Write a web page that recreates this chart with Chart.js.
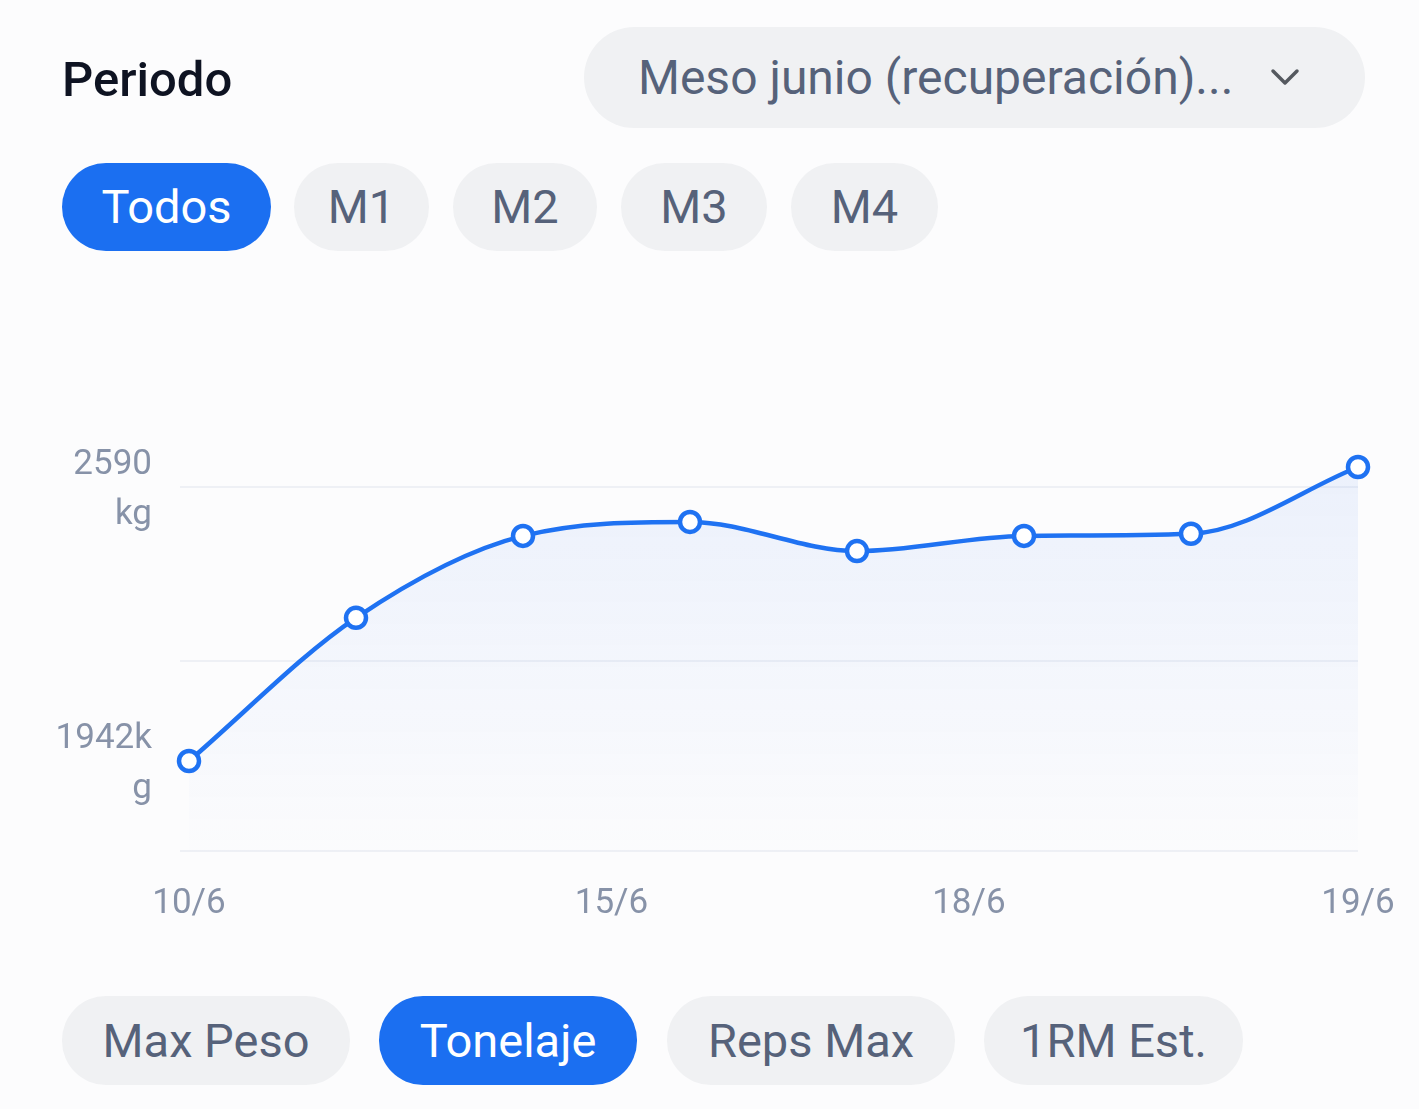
<!DOCTYPE html>
<html>
<head>
<meta charset="utf-8">
<script src="https://cdn.jsdelivr.net/npm/chart.js@4/dist/chart.umd.min.js"></script>
<style>
  html, body { margin: 0; padding: 0; }
  body {
    width: 1419px; height: 1109px; position: relative; overflow: hidden;
    background: #fcfcfd; font-family: Roboto, "Noto Sans", sans-serif;
  }
  .title {
    position: absolute; left: 62px; top: 50px; font-size: 49px; font-weight: 500;
    color: #0e1322; line-height: 60px;
  }
  .select {
    position: absolute; left: 584px; top: 27px; width: 781px; height: 101px;
    border-radius: 51px; background: #f0f1f3; box-sizing: border-box;
  }
  .select span {
    position: absolute; left: 54px; top: 0; line-height: 101px; font-size: 48px; color: #56627a;
  }
  .select svg { position: absolute; left: 686px; top: 38px; }
  .pill {
    position: absolute; height: 88px; border-radius: 44px; background: #f0f1f3;
    color: #56627a; font-size: 47px; line-height: 88px; text-align: center;
  }
  .pill.on { background: #1b6ff1; color: #fff; }
  #chartBox { position: absolute; left: 0; top: 380px; width: 1419px; height: 560px; }
</style>
</head>
<body>
  <div class="title">Periodo</div>
  <div class="select">
    <span>Meso junio (recuperación)...</span>
    <svg width="30" height="24" viewBox="0 0 30 24">
      <polyline points="3,6 15,18 27,6" fill="none" stroke="#55595f" stroke-width="3.5" stroke-linecap="round" stroke-linejoin="round"/>
    </svg>
  </div>

  <div class="pill on" style="left:62px;top:163px;width:209px">Todos</div>
  <div class="pill" style="left:294px;top:163px;width:135px">M1</div>
  <div class="pill" style="left:453px;top:163px;width:144px">M2</div>
  <div class="pill" style="left:621px;top:163px;width:146px">M3</div>
  <div class="pill" style="left:791px;top:163px;width:147px">M4</div>

  <div id="chartBox"><canvas id="tonnage-chart" width="1419" height="560"></canvas></div>

  <div class="pill" style="left:62px;top:996px;width:288px;height:89px;line-height:89px">Max Peso</div>
  <div class="pill on" style="left:379px;top:996px;width:258px;height:89px;line-height:89px">Tonelaje</div>
  <div class="pill" style="left:667px;top:996px;width:288px;height:89px;line-height:89px">Reps Max</div>
  <div class="pill" style="left:984px;top:996px;width:259px;height:89px;line-height:89px">1RM Est.</div>

<script>
// Sessions (x = session index) and tonnage per session
const sessionIndex = [0, 1, 2, 3, 4, 5, 6, 7];
const tonnageKg = [1942, 2281, 2475, 2508, 2439, 2475, 2480, 2638];

// Date ticks shown under the chart
const dateTickPositions = [0, 2.53, 4.67, 7];
const dateTickLabels = ['10/6', '15/6', '18/6', '19/6'];

// Y ticks: only two of them carry a label, the others are just grid lines
const yTickValues = [1729, 1942, 2178, 2590];
const yTickLabels = ['', ['1942k', 'g'], '', ['2590', 'kg']];
const yGridValues = [1729, 2178, 2590];

const yMin = 1729;
const yMax = 2702;

const lineBlue = '#1f72f2';
const tickGray = '#8792a8';

const ctx = document.getElementById('tonnage-chart').getContext('2d');

// Soft blue fill under the line
function areaGradient(context) {
  const area = context.chart.chartArea;
  if (!area) return 'rgba(31,114,242,0.05)';
  const g = context.chart.ctx.createLinearGradient(0, area.top, 0, area.bottom);
  g.addColorStop(0, 'rgba(31,100,235,0.08)');
  g.addColorStop(1, 'rgba(31,100,235,0.005)');
  return g;
}

// drop the label-overflow paddings so the plot area sits where the layout says
function noOverflow(scale) {
  scale.paddingLeft = 0;
  scale.paddingRight = 0;
  scale.paddingTop = 0;
  scale.paddingBottom = 0;
}

const tonnageChart = new Chart(ctx, {
  type: 'line',
  data: {
    datasets: [{
      label: 'Tonelaje',
      data: sessionIndex.map((x, i) => ({ x: x, y: tonnageKg[i] })),
      borderColor: lineBlue,
      borderWidth: 4.5,
      backgroundColor: areaGradient,
      fill: 'start',
      cubicInterpolationMode: 'monotone',
      pointRadius: 10,
      pointBorderWidth: 4.5,
      pointBackgroundColor: '#ffffff',
      pointBorderColor: lineBlue,
      clip: false,
    }],
  },
  options: {
    responsive: false,
    animation: false,
    layout: { padding: { top: 60, right: 61, left: 0, bottom: 0 } },
    plugins: { legend: { display: false }, tooltip: { enabled: false } },
    scales: {
      x: {
        type: 'linear',
        min: 0,
        max: 7,
        border: { display: false },
        grid: { display: false, drawTicks: false },
        afterBuildTicks: scale => {
          scale.ticks = dateTickPositions.map(v => ({ value: v }));
        },
        afterFit: scale => { scale.height = 89; noOverflow(scale); },
        ticks: {
          autoSkip: false,
          maxRotation: 0,
          padding: 32,
          color: tickGray,
          font: { family: 'Roboto', size: 35 },
          callback: (value, index) => dateTickLabels[index],
        },
      },
      y: {
        min: yMin,
        max: yMax,
        border: { display: false },
        grid: {
          drawTicks: true,
          tickLength: 9,
          lineWidth: 2,
          color: c => (c.tick && yGridValues.includes(c.tick.value)) ? '#eef0f5' : 'rgba(0,0,0,0)',
        },
        afterBuildTicks: scale => {
          scale.ticks = yTickValues.map(v => ({ value: v }));
        },
        afterFit: scale => { scale.width = 189; noOverflow(scale); },
        ticks: {
          padding: 28,
          labelOffset: 3,
          color: tickGray,
          font: { family: 'Roboto', size: 35, lineHeight: 1.42 },
          callback: (value, index) => yTickLabels[index],
        },
      },
    },
  },
});
</script>
</body>
</html>
